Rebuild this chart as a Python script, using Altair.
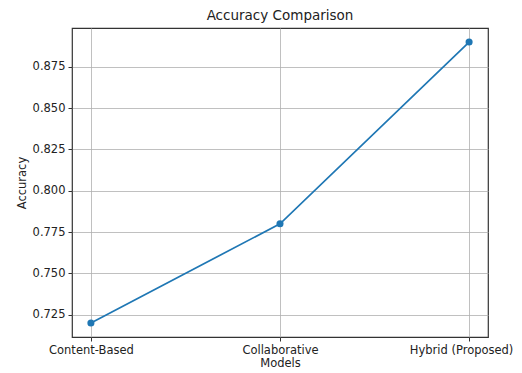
import altair as alt
import pandas as pd

models = ["Content-Based", "Collaborative", "Hybrid (Proposed)"]
accuracy = [0.72, 0.78, 0.89]
y_ticks = [0.725, 0.75, 0.775, 0.8, 0.825, 0.85, 0.875]

df = pd.DataFrame({"idx": list(range(len(models))), "model": models, "acc": accuracy})

label_expr = "[" + ",".join(f"'{m}'" for m in models) + "][datum.value]"

font = "DejaVu Sans"
x = alt.X("idx:Q", scale=alt.Scale(domain=[-0.1, 2.1], nice=False, zero=False),
          axis=alt.Axis(values=[0, 1, 2], labelExpr=label_expr, title="Models",
                        grid=True, gridColor="#b0b0b0", gridWidth=0.8,
                        domain=False, tickColor="#333", tickSize=4, labelPadding=3,
                        labelFont=font, labelFontSize=11.5, labelColor="#222",
                        labelOffset={"condition": {"test": "datum.value == 2", "value": -8}, "value": 0},
                        titleFont=font, titleFontSize=11.5, titleFontWeight="normal",
                        titleColor="#222", titlePadding=2, labelFlush=False))
y = alt.Y("acc:Q", scale=alt.Scale(domain=[0.7115, 0.8985], nice=False, zero=False),
          axis=alt.Axis(values=y_ticks, format=".3f", title="Accuracy",
                        grid=True, gridColor="#b0b0b0", gridWidth=0.8,
                        domain=False, tickColor="#333", tickSize=4, labelPadding=3,
                        labelFont=font, labelFontSize=11.5, labelColor="#222",
                        titleFont=font, titleFontSize=11.5, titleFontWeight="normal",
                        titleColor="#222", titlePadding=5))

base = alt.Chart(df).encode(x=x, y=y)
line = base.mark_line(color="#1f77b4", strokeWidth=1.7)
pts = base.mark_point(filled=True, color="#1f77b4", size=50, opacity=1)

chart = (line + pts).properties(
    width=416, height=309,
    title=alt.TitleParams("Accuracy Comparison", font=font, fontSize=13.5,
                          fontWeight="normal", color="#222", offset=6),
    autosize=alt.AutoSizeParams(type="none"),
    padding={"left": 64, "top": 20, "right": 26, "bottom": 36},
).configure_view(stroke="#333", strokeWidth=1.2)

chart.save("out.html", embed_options={"renderer": "svg", "actions": False})
